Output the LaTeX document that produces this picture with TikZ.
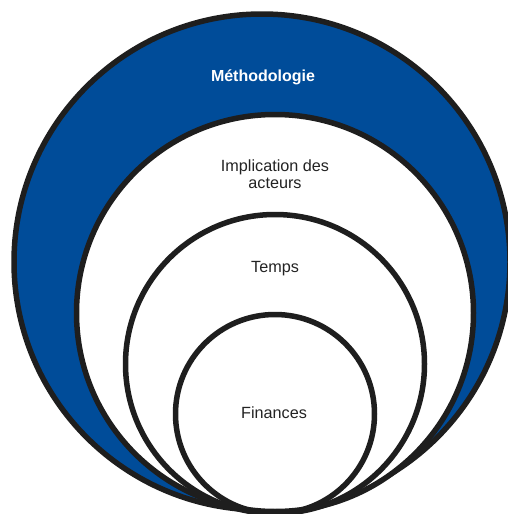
\documentclass[tikz,border=0pt]{standalone}
\usepackage{fontspec}
\setmainfont{Liberation Sans}
\definecolor{ringblue}{RGB}{0,76,153}
\definecolor{ringline}{RGB}{30,30,30}
\definecolor{txt}{RGB}{35,35,35}
\begin{document}
\begin{tikzpicture}[x=1pt,y=-1pt,
  ring/.style={draw=ringline,line width=5.5pt},
  lbl/.style={text=txt,font=\fontsize{16.2}{16.5}\selectfont,align=center,inner sep=0pt},
  title/.style={text=white,font=\fontsize{16}{17}\selectfont\bfseries,inner sep=0pt}]
\useasboundingbox (0,0) rectangle (508,514);
\begin{scope}
\clip (0,0) rectangle (508,514);
\fill[ringblue] (262,262) circle[radius=248];
\draw[ring] (262,262) circle[radius=248];
\fill[white] (275,313) circle[radius=198.5];
\draw[ring] (275,313) circle[radius=198.5];
\draw[ring] (275,364) circle[radius=149.5];
\draw[ring] (275,414) circle[radius=99.5];
\end{scope}
\node[title] (m) at (263,77) {Méthodologie};
\node[lbl] (i) at (275,174) {Implication des\\acteurs};
\node[lbl] (t) at (275,269) {Temps};
\node[lbl] (f) at (274,413) {Finances};
\end{tikzpicture}
\end{document}
